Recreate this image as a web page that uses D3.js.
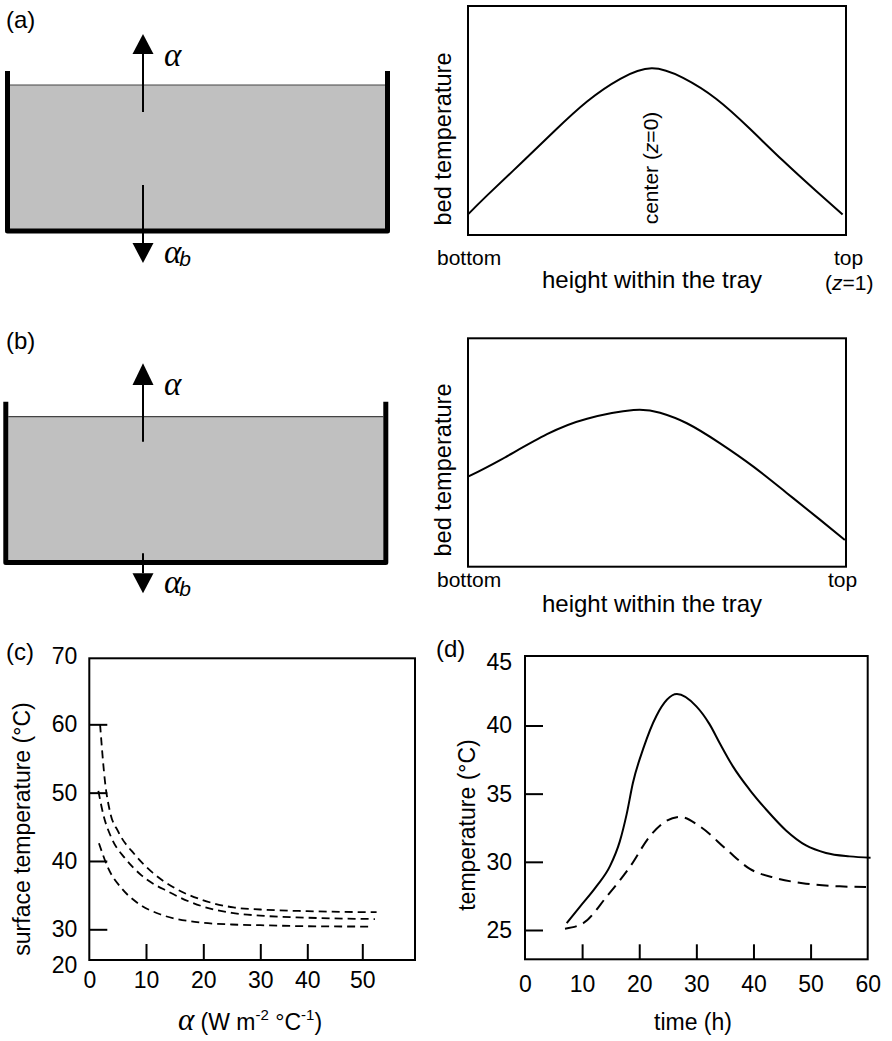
<!DOCTYPE html>
<html>
<head>
<meta charset="utf-8">
<script src="https://cdn.jsdelivr.net/npm/d3@7"></script>
<style>
  body { margin: 0; background: #fff; }
  svg { display: block; font-family: "Liberation Sans", Arial, sans-serif; }
</style>
</head>
<body>
<svg id="fig" width="892" height="1041"></svg>
<script>
// (a) and (b): bed temperature profile, relative height z (0 = bottom, 1 = top) vs relative temperature
const profileA = [[0,.090],[.050,.172],[.138,.310],[.226,.450],[.315,.583],[.403,.682],[.486,.728],
                  [.569,.686],[.657,.594],[.745,.465],[.833,.325],[.921,.192],[.991,.090]];
const profileB = [[0,.394],[.085,.467],[.209,.580],[.315,.648],[.438,.686],[.508,.674],[.579,.628],
                  [.667,.540],[.755,.438],[.843,.323],[.931,.206],[.997,.117]];

// (c): surface temperature (°C) vs alpha (W m-2 °C-1), three cases
const alphaTicks = [0, 10, 20, 30, 40, 50];
const surfTicks = [20, 30, 40, 50, 60, 70];
const surfHigh = [[1.9,60],[2.77,51.6],[3.65,47.2],[5.1,44.3],[8.06,40.9],[11.0,38.4],[15.1,36.0],
                  [19.8,34.3],[25.3,33.2],[30,32.9],[40,32.65],[52.6,32.5]];
const surfMid  = [[1.6,50.25],[2.5,46.7],[3.95,43.3],[6.3,40.4],[9.2,37.9],[13.9,35.5],[19.7,33.4],
                  [25,32.4],[30,32.0],[40,31.7],[52.3,31.5]];
const surfLow  = [[1.7,42.6],[3.35,38.9],[5.7,36.0],[8.6,33.8],[12.8,32.1],[18.5,31.1],[25,30.7],
                  [30,30.6],[40,30.45],[51.4,30.4]];

// (d): temperature (°C) vs time (h)
const timeTicks = [0, 10, 20, 30, 40, 50, 60];
const tempTicks = [25, 30, 35, 40, 45];
const tempSolid = [[7.3,25.5],[9.6,26.7],[12.5,28.2],[14.9,29.7],[16.6,31.5],[17.8,33.5],[18.9,35.8],
                   [20.7,38.3],[23.0,40.7],[26.6,42.3],[30.0,41.4],[32.3,40.1],[34.1,38.7],[36.4,37.0],
                   [39.3,35.3],[42.3,33.8],[45.7,32.3],[49.2,31.2],[52.7,30.65],[56.8,30.4],[60.5,30.3]];
const tempDashed = [[7.0,25.1],[10.2,25.5],[14.3,27.45],[18.4,29.65],[21.9,31.9],[24.2,32.85],[27.1,33.3],
                    [30.6,32.6],[35.3,30.9],[39.3,29.5],[44.0,28.8],[49.2,28.4],[55.1,28.2],[59.7,28.15]];

const svg = d3.select("#fig");
const serif = '"Liberation Serif", "Times New Roman", serif';

// ---------- tray sketches ----------
function drawTray(t) {
  const g = svg.append("g");
  g.append("rect")
    .attr("x", t.x0 + 2.5).attr("y", t.surface)
    .attr("width", t.x1 - t.x0 - 5).attr("height", t.bottom - t.surface - 2)
    .attr("fill", "#c0c0c0");
  g.append("line")
    .attr("x1", t.x0 + 2.5).attr("x2", t.x1 - 2.5)
    .attr("y1", t.surface).attr("y2", t.surface)
    .attr("stroke", "#444").attr("stroke-width", 1.2);
  g.append("path")
    .attr("d", `M${t.x0},${t.wallTop}V${t.bottom}H${t.x1}V${t.wallTop}`)
    .attr("fill", "none").attr("stroke", "#000").attr("stroke-width", 5)
    .attr("stroke-linejoin", "round");

  // arrows
  const ax = t.arrowX, hw = 10.5;
  g.append("line").attr("x1", ax).attr("x2", ax).attr("y1", t.upBase).attr("y2", t.upEnd)
    .attr("stroke", "#000").attr("stroke-width", 2);
  g.append("path").attr("d", `M${ax},${t.upTip}L${ax + hw},${t.upBase}L${ax - hw},${t.upBase}Z`);
  g.append("line").attr("x1", ax).attr("x2", ax).attr("y1", t.downStart).attr("y2", t.downBase)
    .attr("stroke", "#000").attr("stroke-width", 2);
  g.append("path").attr("d", `M${ax},${t.downTip}L${ax + hw},${t.downBase}L${ax - hw},${t.downBase}Z`);

  g.append("text").attr("x", 164).attr("y", t.alphaY)
    .attr("font-family", serif).attr("font-style", "italic").attr("font-size", 33).text("α");
  const ab = g.append("text").attr("x", 164).attr("y", t.alphabY);
  ab.append("tspan").attr("font-family", serif).attr("font-style", "italic").attr("font-size", 33).text("α");
  ab.append("tspan").attr("font-style", "italic").attr("font-size", 21).attr("dy", 3).attr("dx", -2).text("b");
}

drawTray({x0: 7.5, x1: 387.5, wallTop: 71, bottom: 231, surface: 85, arrowX: 143,
          upTip: 34, upBase: 54, upEnd: 112, downStart: 185, downBase: 243, downTip: 263,
          alphaY: 66, alphabY: 263});
drawTray({x0: 5.8, x1: 385.8, wallTop: 401.7, bottom: 562.5, surface: 416.7, arrowX: 143,
          upTip: 363.3, upBase: 385, upEnd: 441.7, downStart: 553.3, downBase: 573.3, downTip: 593.3,
          alphaY: 395, alphabY: 593});

// ---------- panel labels ----------
[["(a)", 6, 28], ["(b)", 6, 349], ["(c)", 6, 660], ["(d)", 436, 657]].forEach(([s, x, y]) => {
  svg.append("text").attr("x", x).attr("y", y).attr("font-size", 24).text(s);
});

function rotLabel(text, x, y, size) {
  return svg.append("text")
    .attr("transform", `translate(${x},${y}) rotate(-90)`)
    .attr("text-anchor", "middle").attr("dy", "0.35em")
    .attr("font-size", size).text(text);
}

// ---------- profile panels ----------
function drawProfile(data, box, opts) {
  const x = d3.scaleLinear().domain([0, 1]).range([box.left, box.right]);
  const y = d3.scaleLinear().domain([0, 1]).range([box.bottom, box.top]);
  svg.append("rect")
    .attr("x", box.left).attr("y", box.top)
    .attr("width", box.right - box.left).attr("height", box.bottom - box.top)
    .attr("fill", "none").attr("stroke", "#000").attr("stroke-width", 2);
  svg.append("path").datum(data)
    .attr("d", d3.line().x(d => x(d[0])).y(d => y(d[1])).curve(d3.curveNatural))
    .attr("fill", "none").attr("stroke", "#000").attr("stroke-width", 2);

  rotLabel("bed temperature", 443, (box.top + box.bottom) / 2 + opts.ylabOff, 23.6);
  svg.append("text").attr("x", 437).attr("y", opts.endY).attr("font-size", 21).text("bottom");
  svg.append("text").attr("x", opts.topX).attr("y", opts.endY).attr("font-size", 21).text("top");
  svg.append("text").attr("x", 652).attr("y", opts.titleY).attr("text-anchor", "middle")
    .attr("font-size", 24).text("height within the tray");
  return {x, y};
}

const pa = drawProfile(profileA, {left: 468, right: 846, top: 6, bottom: 235},
                       {ylabOff: 18.5, endY: 265, topX: 834, titleY: 288});
// centre marker and z=1 note
const cz = svg.append("text")
  .attr("transform", `translate(${pa.x(0.486) - 1},168) rotate(-90)`)
  .attr("text-anchor", "middle").attr("dy", "0.35em").attr("font-size", 21);
cz.append("tspan").text("center (");
cz.append("tspan").attr("font-style", "italic").text("z");
cz.append("tspan").text("=0)");
const z1 = svg.append("text").attr("x", 825).attr("y", 290).attr("font-size", 21);
z1.append("tspan").text("(");
z1.append("tspan").attr("font-style", "italic").text("z");
z1.append("tspan").text("=1)");

drawProfile(profileB, {left: 468, right: 846, top: 338.3, bottom: 566.7},
            {ylabOff: 17.5, endY: 587, topX: 828, titleY: 612});

// ---------- (c) ----------
{
  const box = {left: 89.3, right: 415, top: 658.3, bottom: 960};
  const x = d3.scaleLinear().domain([0, 10, 20, 30, 40, 50, 60])
    .range([89.3, 146, 203.3, 260.3, 307.3, 362.3, 417.3]);
  const y = d3.scaleLinear().domain([20, 30, 70]).range([965, 929.3, 656]);

  svg.append("rect")
    .attr("x", box.left).attr("y", box.top)
    .attr("width", box.right - box.left).attr("height", box.bottom - box.top)
    .attr("fill", "none").attr("stroke", "#000").attr("stroke-width", 2);

  const ya = svg.append("g").attr("transform", `translate(${box.left},0)`)
    .call(d3.axisLeft(y).tickValues(surfTicks).tickSizeInner(-18).tickSizeOuter(0).tickPadding(12));
  const xa = svg.append("g").attr("transform", `translate(0,${box.bottom})`)
    .call(d3.axisBottom(x).tickValues(alphaTicks).tickSizeInner(-16).tickSizeOuter(0).tickPadding(12));
  [ya, xa].forEach(a => {
    a.select(".domain").remove();
    a.selectAll("text").attr("font-size", 23).attr("font-family", null).attr("fill", "#000");
    a.selectAll("line").attr("stroke", "#000").attr("stroke-width", 2);
  });
  ya.selectAll(".tick").filter(d => d === 20 || d === 70).select("line").remove();
  xa.selectAll(".tick").filter(d => d === 0).select("line").remove();

  const line = d3.line().x(d => x(d[0])).y(d => y(d[1])).curve(d3.curveMonotoneX);
  [surfHigh, surfMid, surfLow].forEach(s => {
    svg.append("path").datum(s).attr("d", line)
      .attr("fill", "none").attr("stroke", "#000").attr("stroke-width", 1.8)
      .attr("stroke-dasharray", "8,5");
  });

  rotLabel("surface temperature (°C)", 22, 829, 23);
  const xl = svg.append("text").attr("x", 250).attr("y", 1030).attr("text-anchor", "middle").attr("font-size", 23);
  xl.append("tspan").attr("font-family", serif).attr("font-style", "italic").attr("font-size", 31).text("α");
  xl.append("tspan").text(" (W m");
  xl.append("tspan").attr("font-size", 15).attr("dy", -10).text("-2");
  xl.append("tspan").attr("dy", 10).text(" °C");
  xl.append("tspan").attr("font-size", 15).attr("dy", -10).text("-1");
  xl.append("tspan").attr("dy", 10).text(")");
}

// ---------- (d) ----------
{
  const box = {left: 525, right: 867.7, top: 656, bottom: 959.3};
  const x = d3.scaleLinear().domain([0, 60]).range([box.left, box.right]);
  const y = d3.scaleLinear().domain([25, 45]).range([930, 657.3]);

  svg.append("rect")
    .attr("x", box.left).attr("y", box.top)
    .attr("width", box.right - box.left).attr("height", box.bottom - box.top)
    .attr("fill", "none").attr("stroke", "#000").attr("stroke-width", 2);

  const ya = svg.append("g").attr("transform", `translate(${box.left},0)`)
    .call(d3.axisLeft(y).tickValues(tempTicks).tickSizeInner(-18).tickSizeOuter(0).tickPadding(13));
  const xa = svg.append("g").attr("transform", `translate(0,${box.bottom})`)
    .call(d3.axisBottom(x).tickValues(timeTicks).tickSizeInner(-15).tickSizeOuter(0).tickPadding(16));
  [ya, xa].forEach(a => {
    a.select(".domain").remove();
    a.selectAll("text").attr("font-size", 23).attr("font-family", null).attr("fill", "#000");
    a.selectAll("line").attr("stroke", "#000").attr("stroke-width", 2);
  });
  ya.selectAll(".tick").filter(d => d === 45).select("line").remove();
  ya.selectAll(".tick").filter(d => d === 45).select("text").attr("dy", "0.55em");
  xa.selectAll(".tick").filter(d => d === 0 || d === 60).select("line").remove();

  const line = d3.line().x(d => x(d[0])).y(d => y(d[1])).curve(d3.curveMonotoneX);
  svg.append("path").datum(tempSolid).attr("d", line)
    .attr("fill", "none").attr("stroke", "#000").attr("stroke-width", 2);
  svg.append("path").datum(tempDashed).attr("d", line)
    .attr("fill", "none").attr("stroke", "#000").attr("stroke-width", 2)
    .attr("stroke-dasharray", "12,7");

  rotLabel("temperature (°C)", 467, 825, 23);
  svg.append("text").attr("x", 693).attr("y", 1030).attr("text-anchor", "middle")
    .attr("font-size", 23).text("time (h)");
}
</script>
</body>
</html>
